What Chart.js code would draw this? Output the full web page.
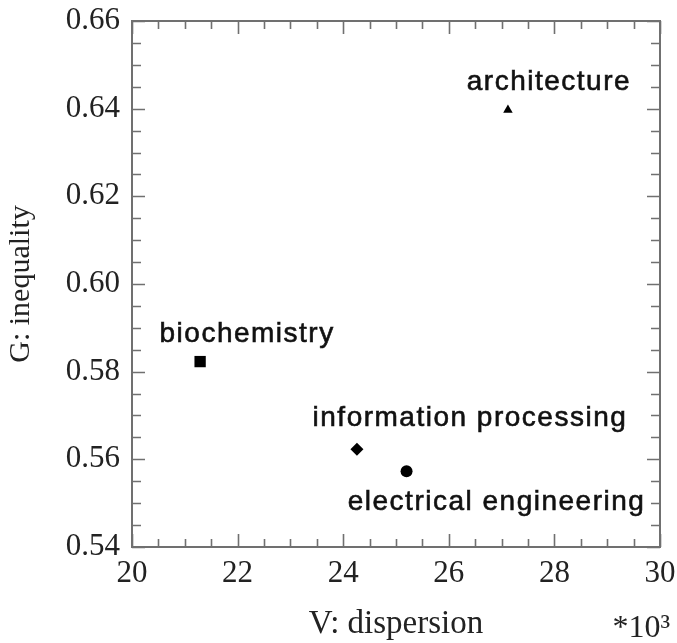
<!DOCTYPE html>
<html>
<head>
<meta charset="utf-8">
<script src="https://cdn.jsdelivr.net/npm/chart.js@4/dist/chart.umd.min.js"></script>
<style>
  html, body { margin: 0; padding: 0; background: #fff; }
  #wrap { width: 677px; height: 643px; }
</style>
</head>
<body>
<div id="wrap"><canvas id="chart" width="677" height="643"></canvas></div>
<script>
// Data
const fields = ['architecture', 'biochemistry', 'information processing', 'electrical engineering'];
const dispersion = [27.12, 21.29, 24.26, 25.20];   // V, in units of 10^3
const inequality = [0.6397, 0.5823, 0.5623, 0.5573]; // G
const xTickValues = [20, 22, 24, 26, 28, 30];
const yTickValues = [0.54, 0.56, 0.58, 0.60, 0.62, 0.64, 0.66];

// Marker styles and label offsets (px, relative to the marker)
const markerStyles = ['triangle', 'rect', 'rectRot', 'circle'];
const markerSizes = [5.5, 8, 6.5, 6];
const labelOffsets = [[41, -20], [47, -20], [113, -23], [90, 39]];

const axisColor = '#707070';
const serif = '"Liberation Serif", "Times New Roman", serif';

// frame with inward ticks on all four sides
const framePlugin = {
    id: 'frame',
    beforeDatasetsDraw(chart) {
        const { ctx, chartArea: a, scales: { x, y } } = chart;
        ctx.save();
        ctx.strokeStyle = axisColor;
        ctx.lineWidth = 2;
        ctx.strokeRect(a.left, a.top, a.right - a.left, a.bottom - a.top);
        ctx.lineWidth = 1.6;
        ctx.beginPath();
        // x ticks every 0.5, major every 2
        for (let i = 0; i <= (x.max - x.min) / 0.5; i++) {
            const v = x.min + i * 0.5;
            const px = Math.round(x.getPixelForValue(v)) + 0.5;
            const len = (v % 2 === 0) ? 13 : 8;
            ctx.moveTo(px, a.bottom); ctx.lineTo(px, a.bottom - len);
            ctx.moveTo(px, a.top); ctx.lineTo(px, a.top + len);
        }
        // y ticks every 0.005, major every 0.02
        for (let i = 0; i <= Math.round((y.max - y.min) / 0.005); i++) {
            const py = Math.round(y.getPixelForValue(y.min + i * 0.005)) + 0.5;
            const len = (i % 4 === 0) ? 13 : 9;
            ctx.moveTo(a.left, py); ctx.lineTo(a.left + len, py);
            ctx.moveTo(a.right, py); ctx.lineTo(a.right - len, py);
        }
        ctx.stroke();
        ctx.restore();
    },
    afterDatasetsDraw(chart) {
        const { ctx, chartArea: a } = chart;
        const meta = chart.getDatasetMeta(0);
        ctx.save();
        ctx.fillStyle = '#111';
        ctx.strokeStyle = '#111';
        ctx.lineWidth = 0.6;
        ctx.font = '28px "Liberation Sans", Arial, sans-serif';
        ctx.letterSpacing = '1.5px';
        ctx.textAlign = 'center';
        ctx.textBaseline = 'alphabetic';
        meta.data.forEach((pt, i) => {
            ctx.fillText(fields[i], pt.x + labelOffsets[i][0], pt.y + labelOffsets[i][1]);
            ctx.strokeText(fields[i], pt.x + labelOffsets[i][0], pt.y + labelOffsets[i][1]);
        });
        // unit note under the right end of the x axis
        ctx.letterSpacing = '0px';
        ctx.font = '32px ' + serif;
        ctx.fillStyle = '#222';
        ctx.textAlign = 'right';
        ctx.fillText('*10\u00B3', a.right + 10, 637);
        ctx.restore();
    }
};

new Chart(document.getElementById('chart'), {
    type: 'scatter',
    data: {
        datasets: [{
            label: 'fields',
            data: dispersion.map((v, i) => ({ x: v, y: inequality[i] })),
            pointStyle: markerStyles,
            pointRadius: markerSizes,
            pointHoverRadius: markerSizes,
            backgroundColor: '#000',
            borderColor: '#000',
            borderWidth: 0
        }]
    },
    options: {
        responsive: false,
        animation: false,
        events: [],
        layout: { padding: { top: 21, right: 17, left: 0, bottom: 0 } },
        plugins: { legend: { display: false }, tooltip: { enabled: false } },
        scales: {
            x: {
                type: 'linear',
                min: 20,
                max: 30,
                grid: { display: false, drawTicks: false },
                border: { display: false },
                afterBuildTicks: scale => { scale.ticks = xTickValues.map(v => ({ value: v })); },
                afterFit: scale => {
                    scale.height = 96;
                    scale.paddingLeft = 0;
                    scale.paddingRight = 0;
                },
                ticks: {
                    padding: 8,
                    color: '#222',
                    font: { family: serif, size: 31 },
                    maxRotation: 0,
                    callback: v => String(v)
                },
                title: {
                    display: true,
                    text: 'V: dispersion',
                    color: '#222',
                    font: { family: serif, size: 33 },
                    padding: { top: 0, bottom: -1 }
                }
            },
            y: {
                type: 'linear',
                min: 0.54,
                max: 0.66,
                grid: { display: false, drawTicks: false },
                border: { display: false },
                afterBuildTicks: scale => { scale.ticks = yTickValues.map(v => ({ value: v })); },
                afterFit: scale => {
                    scale.width = 132;
                    scale.paddingTop = 0;
                    scale.paddingBottom = 0;
                },
                ticks: {
                    padding: 12,
                    color: '#222',
                    font: { family: serif, size: 31 },
                    callback: v => Number(v).toFixed(2)
                },
                title: {
                    display: true,
                    text: 'G: inequality',
                    color: '#222',
                    font: { family: serif, size: 30 },
                    padding: { top: 3, bottom: 0 }
                }
            }
        }
    },
    plugins: [framePlugin]
});
</script>
</body>
</html>
